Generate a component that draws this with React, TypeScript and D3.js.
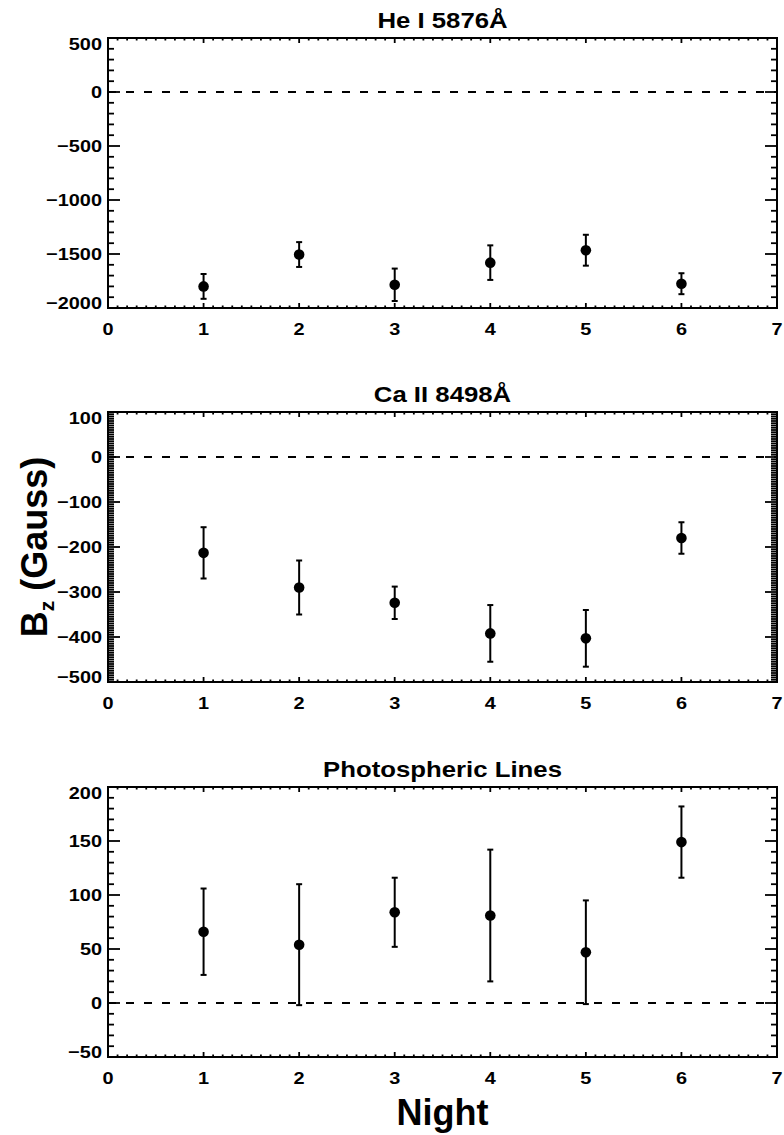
import { useEffect, useRef } from "react";
import * as d3 from "d3";

const nights = [1, 2, 3, 4, 5, 6];

const heValues = [-1800, -1505, -1785, -1580, -1465, -1775];
const heErrors = [115, 115, 150, 160, 143, 97];

const caValues = [-213, -290, -324, -392, -403, -180];
const caErrors = [57, 60, 36, 63, 63, 35];

const photValues = [66, 54, 84, 81, 47, 149];
const photErrors = [40, 56, 32, 61, 48, 33];

const xTicks = [0, 1, 2, 3, 4, 5, 6, 7];

const panels = [
  { title: "He I 5876Å", values: heValues, errors: heErrors, domain: [-2000, 500], major: 500, minor: 100, top: 38 },
  { title: "Ca II 8498Å", values: caValues, errors: caErrors, domain: [-500, 100], major: 100, minor: 5, top: 412 },
  { title: "Photospheric Lines", values: photValues, errors: photErrors, domain: [-50, 200], major: 50, minor: 10, top: 787 },
];

export default function App() {
  const ref = useRef<SVGSVGElement>(null);

  useEffect(() => {
    const svg = d3.select(ref.current);
    svg.selectAll("*").remove();

    const left = 108, right = 777, h = 270;
    const font = "'Liberation Sans', Arial, Helvetica, sans-serif";

    const x = d3.scaleLinear().domain([0, 7]).range([left, right]);

    // text helper, IDL fonts are a bit wider than Arial
    const label = (g, px, py, str, size, anchor, sx) => {
      return g.append("text")
        .attr("transform", `translate(${px},${py}) scale(${sx},1)`)
        .attr("text-anchor", anchor)
        .attr("font-family", font)
        .attr("font-weight", "bold")
        .attr("font-size", size)
        .attr("fill", "#000")
        .text(str);
    };

    panels.forEach(p => {
      const top = p.top, bottom = top + h;
      const y = d3.scaleLinear().domain(p.domain).range([bottom, top]);
      const g = svg.append("g");

      // minor ticks
      const xMinor = d3.range(0, 70.5, 1).map(d => d / 10).filter(d => Math.round(d * 10) % 10 !== 0);
      const yMinor = d3.range(p.domain[0], p.domain[1] + 0.01, p.minor).filter(d => Math.abs(d % p.major) > 1e-6);
      const yMajor = d3.range(p.domain[0], p.domain[1] + 0.01, p.major);

      const tick = (x1, y1, x2, y2) => g.append("line")
        .attr("x1", x1).attr("y1", y1).attr("x2", x2).attr("y2", y2)
        .attr("stroke", "#000").attr("stroke-width", 1.8);

      xMinor.forEach(d => {
        tick(x(d), bottom, x(d), bottom - 2.5);
        tick(x(d), top, x(d), top + 2.5);
      });
      xTicks.forEach(d => {
        tick(x(d), bottom, x(d), bottom - 5);
        tick(x(d), top, x(d), top + 5);
      });
      yMinor.forEach(d => {
        tick(left, y(d), left + 6, y(d));
        tick(right, y(d), right - 6, y(d));
      });
      yMajor.forEach(d => {
        tick(left, y(d), left + 12, y(d));
        tick(right, y(d), right - 12, y(d));
      });

      // zero line
      g.append("line")
        .attr("x1", left).attr("x2", right)
        .attr("y1", y(0)).attr("y2", y(0))
        .attr("stroke", "#000").attr("stroke-width", 1.8)
        .attr("stroke-dasharray", "8,10");

      // frame
      g.append("rect")
        .attr("x", left).attr("y", top)
        .attr("width", right - left).attr("height", h)
        .attr("fill", "none").attr("stroke", "#000").attr("stroke-width", 2);

      // tick labels
      yMajor.forEach(d => {
        const cy = Math.max(top + 6, Math.min(bottom - 5, y(d)));
        label(g, left - 6, cy + 6, d < 0 ? "\u2212" + Math.abs(d) : String(d), 17, "end", 1.17);
      });
      xTicks.forEach(d => {
        label(g, x(d), bottom + 27, String(d), 17, "middle", 1.17);
      });

      label(g, (left + right) / 2, top - 10.5, p.title, 23, "middle", 1.12);

      // error bars + points
      const pts = nights.map((n, i) => ({ n, v: p.values[i], e: p.errors[i] }));
      const bars = g.append("g").attr("stroke", "#000").attr("stroke-width", 2);
      pts.forEach(d => {
        bars.append("line").attr("x1", x(d.n)).attr("x2", x(d.n)).attr("y1", y(d.v - d.e)).attr("y2", y(d.v + d.e));
        bars.append("line").attr("x1", x(d.n) - 3).attr("x2", x(d.n) + 3).attr("y1", y(d.v - d.e)).attr("y2", y(d.v - d.e));
        bars.append("line").attr("x1", x(d.n) - 3).attr("x2", x(d.n) + 3).attr("y1", y(d.v + d.e)).attr("y2", y(d.v + d.e));
      });
      g.selectAll("circle.pt")
        .data(pts)
        .join("circle")
        .attr("class", "pt")
        .attr("cx", d => x(d.n))
        .attr("cy", d => y(d.v))
        .attr("r", 5.3)
        .attr("fill", "#000");
    });

    // axis titles
    label(svg, (left + right) / 2, 1125, "Night", 36, "middle", 1);

    const yt = svg.append("text")
      .attr("transform", "translate(47,547) rotate(-90)")
      .attr("text-anchor", "middle")
      .attr("font-family", font)
      .attr("font-weight", "bold")
      .attr("font-size", 36)
      .attr("fill", "#000");
    yt.append("tspan").text("B");
    yt.append("tspan").attr("font-size", 21).attr("dy", 7).text("z");
    yt.append("tspan").attr("dy", -7).text(" (Gauss)");
  }, []);

  return (
    <svg
      ref={ref}
      width={784}
      height={1135}
      style={{ position: "absolute", left: 0, top: 0, background: "#fff" }}
    />
  );
}
